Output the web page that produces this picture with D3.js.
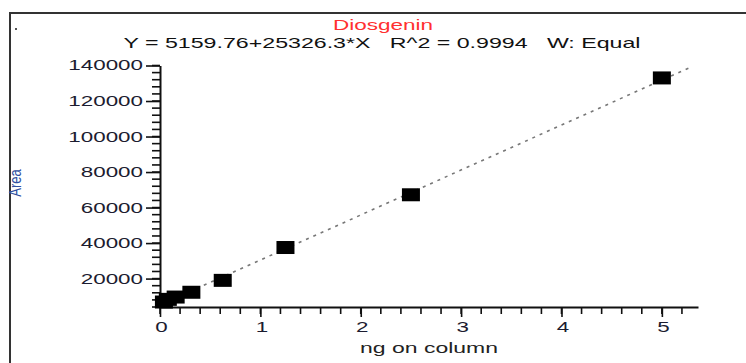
<!doctype html>
<html lang="en">
  <head>
    <meta charset="utf-8">
    <title>Diosgenin calibration</title>
    <script src="https://d3js.org/d3.v7.min.js"></script>
    <style>
      body { margin: 0; background: #fff; }
      text { font-family: "Liberation Sans", Arial, sans-serif; }
    </style>
  </head>

  <body>
    <svg width="746" height="363"></svg>
    <script>
      // data
      var conc = [0.039, 0.078, 0.156, 0.3125, 0.625, 1.25, 2.5, 5];
      var area = [6800, 8300, 9600, 12300, 19000, 37500, 67200, 133000];
      var xTicks = [0, 1, 2, 3, 4, 5];
      var yTicks = [20000, 40000, 60000, 80000, 100000, 120000, 140000];
      var intercept = 5159.76, slope = 25326.3;
      var fitRange = [0, 5.3];

      var svg = d3.select('svg');
      var stretch = 1.6; // the scan is wider than tall

      var x = d3.scaleLinear().domain([0, 5.36]).range([160, 698]);
      var y = d3.scaleLinear().domain([4000, 140000]).range([307, 65.5]);

      // frame
      svg.append('path')
        .attr('d', 'M10,363 V13 H746')
        .attr('fill', 'none')
        .attr('stroke', '#333')
        .attr('stroke-width', 2);

      // minor ticks
      var yMinor = d3.range(4000, 140001, 4000);
      var xMinor = d3.range(0, 5.21, 0.2);

      svg.selectAll('.ymin').data(yMinor).enter().append('line')
        .attr('x1', 152).attr('x2', 160)
        .attr('y1', function(d){ return y(d); })
        .attr('y2', function(d){ return y(d); })
        .attr('stroke', '#111').attr('stroke-width', 1.6);

      svg.selectAll('.xmin').data(xMinor).enter().append('line')
        .attr('x1', function(d){ return x(d); })
        .attr('x2', function(d){ return x(d); })
        .attr('y1', 307).attr('y2', 314)
        .attr('stroke', '#111').attr('stroke-width', 1.6);

      // axes
      var yAxis = svg.append('g')
        .attr('transform', 'translate(160,0)')
        .call(d3.axisLeft(y).tickValues(yTicks).tickSize(14).tickSizeOuter(0).tickFormat(d3.format('d')));

      var xAxis = svg.append('g')
        .attr('transform', 'translate(0,307)')
        .call(d3.axisBottom(x).tickValues(xTicks).tickSize(10).tickSizeOuter(0).tickFormat(d3.format('d')));

      [yAxis, xAxis].forEach(function(g){
        g.select('.domain').attr('stroke', '#111').attr('stroke-width', 2);
        g.selectAll('.tick line').attr('stroke', '#111').attr('stroke-width', 1.6);
        g.selectAll('.tick text')
          .attr('fill', '#1c1c30')
          .style('font-size', '14px')
          .style('font-family', '"Liberation Sans", Arial, sans-serif');
      });

      yAxis.selectAll('.tick text')
        .attr('x', 0)
        .attr('transform', 'translate(-17,0) scale(' + stretch + ',1)');

      xAxis.selectAll('.tick text')
        .attr('y', 0).attr('dy', 0)
        .attr('transform', 'translate(1,25) scale(' + stretch + ',1)');

      // regression line
      var line = d3.line()
        .x(function(d){ return x(d); })
        .y(function(d){ return y(intercept + slope * d); });

      svg.append('path')
        .datum(fitRange)
        .attr('d', line)
        .attr('fill', 'none')
        .attr('stroke', '#777')
        .attr('stroke-width', 1.6)
        .attr('stroke-dasharray', '3,5');

      // points
      var pts = conc.map(function(c, i){ return { c: c, a: area[i] }; });
      svg.selectAll('.pt').data(pts).enter().append('rect')
        .attr('x', function(d){ return x(d.c) - 9; })
        .attr('y', function(d){ return y(d.a) - 6.5; })
        .attr('width', 18).attr('height', 13)
        .attr('fill', '#000');

      // titles
      svg.append('text')
        .attr('x', 383).attr('y', 30)
        .attr('text-anchor', 'middle')
        .attr('fill', '#ff3030')
        .style('font-size', '14px')
        .attr('textLength', 100)
        .attr('lengthAdjust', 'spacingAndGlyphs')
        .text('Diosgenin');

      svg.append('text')
        .attr('x', 382).attr('y', 48)
        .attr('text-anchor', 'middle')
        .attr('fill', '#111')
        .style('font-size', '15px')
        .attr('textLength', 517)
        .attr('lengthAdjust', 'spacingAndGlyphs')
        .attr('xml:space', 'preserve')
        .text('Y = 5159.76+25326.3*X   R^2 = 0.9994   W: Equal');

      svg.append('text')
        .attr('x', 429).attr('y', 353)
        .attr('text-anchor', 'middle')
        .attr('fill', '#222')
        .style('font-size', '14px')
        .attr('textLength', 138)
        .attr('lengthAdjust', 'spacingAndGlyphs')
        .text('ng on column');

      svg.append('text')
        .attr('transform', 'translate(21,183) scale(1.2,1) rotate(-90)')
        .attr('text-anchor', 'middle')
        .attr('fill', '#3050a0')
        .style('font-size', '13px')
        .text('Area');

      // speck in the corner of the scan
      svg.append('rect')
        .attr('x', 15).attr('y', 28).attr('width', 2).attr('height', 2)
        .attr('fill', '#555');
    </script>
  </body>
</html>
